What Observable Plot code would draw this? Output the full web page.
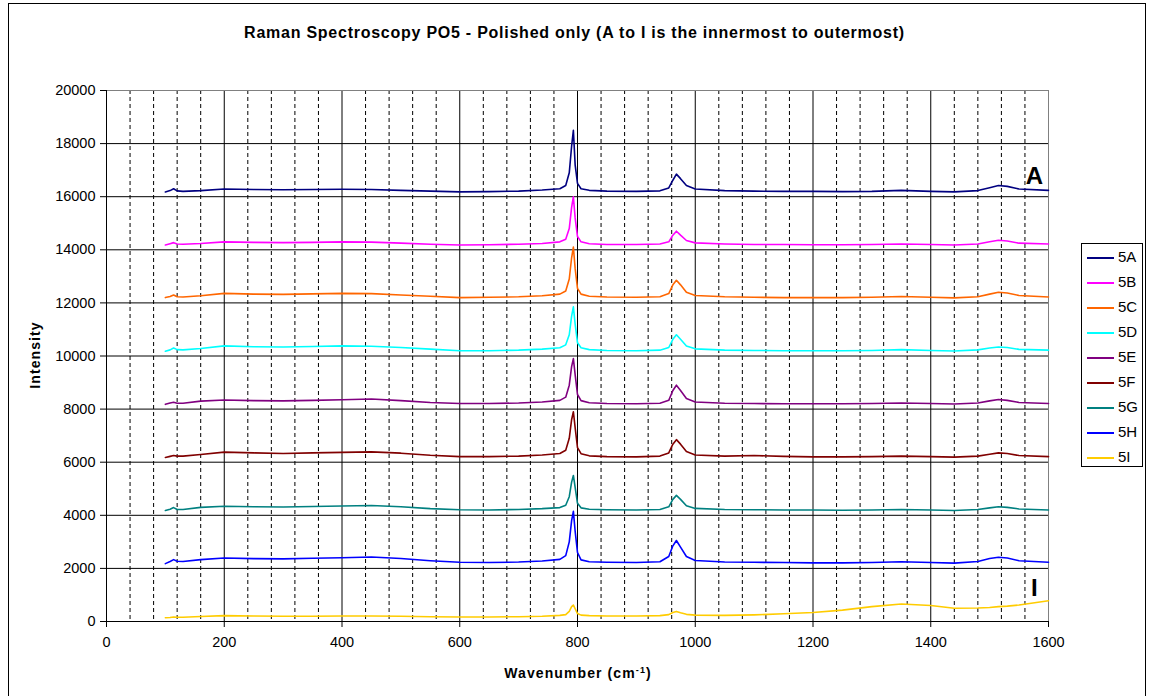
<!DOCTYPE html>
<html>
<head>
<meta charset="utf-8">
<script src="https://cdn.jsdelivr.net/npm/d3@7"></script>
<script src="https://cdn.jsdelivr.net/npm/@observablehq/plot@0.6"></script>
<style>
  html, body { margin: 0; padding: 0; background: #fff; overflow: hidden; }
  #wrap { position: relative; width: 1149px; height: 696px; font-family: "Liberation Sans", Arial, sans-serif; color: #000; }
  #wrap svg { position: absolute; left: 0; top: 0; }
  .ov { position: absolute; white-space: nowrap; }
  #border { position: absolute; left: 8px; top: 3px; width: 1138px; height: 720px; border: 1px solid #000; box-sizing: border-box; }
  #title { left: 0; width: 1149px; text-align: center; top: 24px; font-weight: bold; font-size: 16px; letter-spacing: 0.75px; }
  #ylab { left: 35px; top: 355px; font-weight: bold; font-size: 14px; letter-spacing: 1.1px; transform: translate(-50%, -50%) rotate(-90deg); }
  #xlab { left: 578px; top: 673px; font-weight: bold; font-size: 14px; letter-spacing: 1.1px; transform: translate(-50%, -50%); }
  #xlab sup { font-size: 9px; }
  #legend { position: absolute; left: 1081px; top: 243px; width: 62px; height: 224px; border: 1px solid #000; box-sizing: border-box; background: #fff; }
  .lg { position: absolute; left: 0; height: 25px; width: 60px; }
  .lg .sw { position: absolute; left: 5px; top: 12px; width: 27px; height: 0; border-top: 2px solid; }
  .lg .tx { position: absolute; left: 36px; top: 3px; font-size: 15px; }
</style>
</head>
<body>
<div id="wrap">
  <div id="border"></div>
  <div id="title" class="ov">Raman Spectroscopy PO5 - Polished only (A to I is the innermost to outermost)</div>
  <div id="ylab" class="ov">Intensity</div>
  <div id="xlab" class="ov">Wavenumber (cm<sup>-1</sup>)</div>
  <div id="legend"></div>
</div>
<script>
// ---- data ----
const seriesNames = ["5A","5B","5C","5D","5E","5F","5G","5H","5I"];
const seriesColors = ["#000080","#FF00FF","#FF6600","#00FFFF","#800080","#800000","#008080","#0000FF","#FFCC00"];

const wavenumber = [100,108,114,120,130,160,200,250,300,350,400,450,500,550,600,650,700,740,770,780,786,790,793,796,800,806,820,850,900,940,955,962,968,975,985,1000,1050,1100,1150,1200,1250,1300,1350,1400,1440,1480,1500,1515,1530,1550,1600];

const s5A = [16180,16230,16300,16220,16200,16230,16290,16270,16260,16270,16280,16270,16240,16210,16180,16190,16210,16250,16300,16420,16900,17900,18500,17200,16500,16300,16240,16210,16200,16220,16330,16620,16850,16680,16420,16290,16230,16210,16200,16200,16190,16200,16240,16200,16180,16230,16340,16420,16390,16290,16240];
const s5B = [14180,14230,14270,14220,14210,14240,14300,14280,14270,14280,14300,14290,14250,14210,14180,14190,14210,14240,14300,14400,14800,15600,16000,15200,14500,14300,14230,14200,14200,14220,14300,14550,14700,14550,14350,14260,14220,14200,14200,14190,14190,14200,14220,14200,14180,14220,14300,14360,14330,14250,14220];
const s5C = [12200,12240,12300,12230,12220,12270,12360,12330,12320,12340,12360,12350,12300,12250,12200,12210,12230,12270,12330,12450,12900,13700,14100,13300,12550,12330,12250,12220,12210,12230,12350,12680,12850,12680,12400,12280,12230,12210,12200,12200,12200,12210,12240,12210,12190,12230,12330,12400,12370,12280,12220];
const s5D = [10180,10230,10300,10240,10230,10280,10380,10350,10340,10360,10380,10370,10320,10260,10200,10200,10220,10260,10310,10420,10800,11500,11850,11200,10500,10310,10240,10210,10200,10220,10320,10630,10800,10630,10380,10270,10220,10210,10200,10200,10200,10210,10240,10210,10190,10230,10300,10340,10320,10250,10220];
const s5E = [8180,8230,8260,8220,8220,8300,8340,8320,8310,8330,8350,8380,8320,8250,8210,8210,8230,8270,8330,8450,8900,9600,9900,9300,8550,8320,8240,8210,8200,8220,8330,8700,8900,8700,8400,8270,8220,8210,8200,8200,8200,8210,8230,8210,8190,8230,8310,8360,8330,8250,8210];
const s5F = [6180,6220,6250,6230,6230,6290,6380,6350,6330,6350,6370,6390,6340,6260,6210,6210,6230,6270,6330,6450,6900,7600,7900,7300,6550,6320,6240,6210,6200,6230,6350,6680,6850,6680,6400,6270,6230,6250,6220,6200,6200,6210,6230,6210,6190,6230,6300,6350,6330,6250,6210];
const s5G = [4180,4230,4290,4220,4220,4300,4340,4320,4310,4330,4350,4370,4320,4250,4210,4200,4220,4250,4290,4380,4700,5250,5500,5050,4450,4280,4230,4210,4200,4220,4320,4600,4750,4600,4360,4260,4220,4210,4200,4200,4190,4200,4220,4200,4180,4220,4280,4320,4300,4240,4200];
const s5H = [2180,2260,2330,2270,2260,2330,2390,2370,2360,2380,2400,2430,2370,2290,2230,2220,2240,2280,2340,2480,3000,3800,4150,3400,2600,2320,2250,2230,2220,2250,2450,2850,3050,2800,2450,2300,2240,2230,2220,2210,2210,2220,2250,2220,2200,2260,2370,2420,2390,2290,2230];
const s5I = [140,150,170,160,160,190,220,210,200,200,210,210,200,180,170,170,180,200,230,260,380,560,620,480,300,240,220,210,210,220,260,340,380,330,270,240,230,250,290,340,430,560,660,600,500,510,530,560,580,620,780];

const xTicks = [0,200,400,600,800,1000,1200,1400,1600];
const yTicks = [0,2000,4000,6000,8000,10000,12000,14000,16000,18000,20000];
const xMinor = [40,80,120,160,240,280,320,360,440,480,520,560,640,680,720,760,840,880,920,960,1040,1080,1120,1160,1240,1280,1320,1360,1440,1480,1520,1560];
const annotations = [{x: 1576, y: 16750, t: "A"}, {x: 1576, y: 1250, t: "I"}];

// ---- build table ----
const allSeries = [s5A,s5B,s5C,s5D,s5E,s5F,s5G,s5H,s5I];
const rows = [];
allSeries.forEach((vals, i) => {
  vals.forEach((v, j) => rows.push({series: seriesNames[i], x: wavenumber[j], y: v}));
});

const chart = Plot.plot({
  width: 1149,
  height: 696,
  marginLeft: 106,
  marginRight: 101,
  marginTop: 90,
  marginBottom: 75,
  style: {fontFamily: "'Liberation Sans', Arial, sans-serif", fontSize: "14px", color: "#000", background: "transparent"},
  x: {domain: [0, 1600]},
  y: {domain: [0, 20000]},
  color: {domain: seriesNames, range: seriesColors},
  marks: [
    Plot.ruleX(xMinor, {stroke: "#000", strokeDasharray: "4,3", strokeWidth: 1}),
    Plot.ruleX(xTicks.filter(d => d > 0 && d < 1600), {stroke: "#000", strokeWidth: 1}),
    Plot.ruleY(yTicks.filter(d => d > 0 && d < 20000), {stroke: "#000", strokeWidth: 1}),
    Plot.ruleY([20000], {stroke: "#808080"}),
    Plot.ruleX([1600], {stroke: "#808080"}),
    Plot.line(rows, {x: "x", y: "y", z: "series", stroke: "series", strokeWidth: 1.6}),
    Plot.ruleX([0], {stroke: "#000"}),
    Plot.ruleY([0], {stroke: "#000"}),
    Plot.axisX({ticks: xTicks, tickSize: 6, tickPadding: 9, label: null, tickFormat: d => String(d), fontSize: 14.5}),
    Plot.axisY({ticks: yTicks, tickSize: 6, tickPadding: 5, label: null, tickFormat: d => String(d), fontSize: 14.5}),
    Plot.text(annotations, {x: "x", y: "y", text: "t", fontWeight: "bold", fontSize: 24, fill: "#000"})
  ]
});
document.getElementById("wrap").insertBefore(chart, document.getElementById("border"));

// ---- legend ----
const lg = document.getElementById("legend");
seriesNames.forEach((name, i) => {
  const row = document.createElement("div");
  row.className = "lg";
  row.style.top = (1 + i * 25) + "px";
  row.innerHTML = `<div class="sw" style="border-color:${seriesColors[i]}"></div><div class="tx">${name}</div>`;
  lg.appendChild(row);
});
</script>
</body>
</html>
